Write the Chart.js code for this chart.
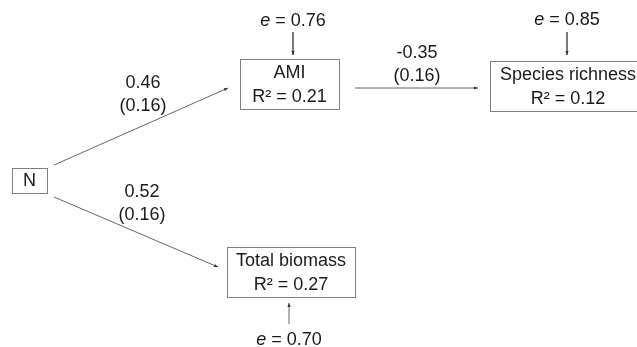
<!DOCTYPE html>
<html><head><meta charset="utf-8">
<script src="https://cdn.jsdelivr.net/npm/chart.js@4"></script>
<style>html,body{margin:0;padding:0;background:#fff}#wrap{width:637px;height:347px}</style>
</head><body><div id="wrap"><canvas id="c"></canvas></div>
<script>
// ---- data ----
const nodeNames = ['N', 'AMI', 'Species richness', 'Total biomass'];
const nodeR2 = [null, 0.21, 0.12, 0.27];
const nodeError = [null, 0.76, 0.85, 0.70];
const pathFrom = [0, 1, 0];
const pathTo = [1, 2, 3];
const pathCoef = [0.46, -0.35, 0.52];
const pathSE = [0.16, 0.16, 0.16];

// ---- layout (diagram units) ----
const layout = {
  box: [ {x0:12,x1:47,y0:168,y1:193}, {x0:240,x1:339,y0:59,y1:109}, {x0:490,x1:645,y0:61,y1:111}, {x0:227,x1:355,y0:247,y1:297} ],
  textX: [29.5, 289.5, 568, 291],
  edge: [ [[54,165],[228,88]], [[355,88],[478,88]], [[54,197],[218,267]] ],
  edgeLabel: [ [143,83,106], [417,53,76], [142,192,215] ],
  err: [ null, {tx:293,ty:21,a:[[293,32],[293,55]]}, {tx:567,ty:20,a:[[567,32],[567,55]]}, {tx:289,ty:340,a:[[289,324],[289,303]]} ]
};

const fmt = v => v.toFixed(2);
const lineDatasets = [];
pathFrom.forEach((f, i) => {
  const e = layout.edge[i];
  lineDatasets.push({ type:'line', data:[{x:e[0][0],y:e[0][1]},{x:e[1][0],y:e[1][1]}], borderColor:'#666', borderWidth:1, pointRadius:0, arrow:true });
});
nodeError.forEach((v, i) => {
  if (v === null) return;
  const a = layout.err[i].a;
  lineDatasets.push({ type:'line', data:[{x:a[0][0],y:a[0][1]},{x:a[1][0],y:a[1][1]}], borderColor:'#666', borderWidth:1, pointRadius:0, arrow:true });
});

const diagramPlugin = {
  id: 'diagram',
  afterDatasetsDraw(chart) {
    const ctx = chart.ctx, xs = chart.scales.x, ys = chart.scales.y;
    const X = v => xs.getPixelForValue(v), Y = v => ys.getPixelForValue(v);
    ctx.save();
    // arrowheads
    chart.data.datasets.forEach(ds => {
      if (!ds.arrow) return;
      const p0 = ds.data[0], p1 = ds.data[1];
      const x0 = X(p0.x), y0 = Y(p0.y), x1 = X(p1.x), y1 = Y(p1.y);
      const ang = Math.atan2(y1 - y0, x1 - x0), L = 4, W = 1.6;
      ctx.fillStyle = '#333';
      ctx.beginPath();
      ctx.moveTo(x1, y1);
      ctx.lineTo(x1 - L*Math.cos(ang) + W*Math.sin(ang), y1 - L*Math.sin(ang) - W*Math.cos(ang));
      ctx.lineTo(x1 - L*Math.cos(ang) - W*Math.sin(ang), y1 - L*Math.sin(ang) + W*Math.cos(ang));
      ctx.closePath(); ctx.fill();
    });
    // boxes
    ctx.strokeStyle = '#808080'; ctx.lineWidth = 1;
    ctx.fillStyle = '#1a1a1a';
    ctx.font = '18px "Liberation Sans", Arial, sans-serif';
    ctx.textAlign = 'center'; ctx.textBaseline = 'middle';
    nodeNames.forEach((name, i) => {
      const b = layout.box[i];
      const x0 = Math.round(X(b.x0)) + 0.5, x1 = Math.round(X(b.x1)) + 0.5;
      const y0 = Math.round(Y(b.y0)) + 0.5, y1 = Math.round(Y(b.y1)) + 0.5;
      ctx.strokeRect(x0, y0, x1 - x0, y1 - y0);
      const cx = X(layout.textX[i]);
      const cy = (Y(b.y0) + Y(b.y1)) / 2;
      if (nodeR2[i] === null) {
        ctx.fillText(name, cx, cy + 1);
      } else {
        ctx.fillText(name, cx, cy - 11);
        ctx.fillText('R\u00b2 = ' + fmt(nodeR2[i]), cx, cy + 13);
      }
    });
    // path labels
    pathCoef.forEach((c, i) => {
      const l = layout.edgeLabel[i];
      ctx.fillText(fmt(c), X(l[0]), Y(l[1]));
      ctx.fillText('(' + fmt(pathSE[i]) + ')', X(l[0]), Y(l[2]));
    });
    // error terms
    nodeError.forEach((v, i) => {
      if (v === null) return;
      const e = layout.err[i];
      const rest = ' = ' + fmt(v);
      ctx.font = 'italic 18px "Liberation Sans", Arial, sans-serif';
      const we = ctx.measureText('e').width;
      ctx.font = '18px "Liberation Sans", Arial, sans-serif';
      const wr = ctx.measureText(rest).width;
      const start = X(e.tx) - (we + wr) / 2;
      ctx.textAlign = 'left';
      ctx.font = 'italic 18px "Liberation Sans", Arial, sans-serif';
      ctx.fillText('e', start, Y(e.ty));
      ctx.font = '18px "Liberation Sans", Arial, sans-serif';
      ctx.fillText(rest, start + we, Y(e.ty));
      ctx.textAlign = 'center';
    });
    ctx.restore();
  }
};

new Chart(document.getElementById('c'), {
  type: 'scatter',
  data: { datasets: lineDatasets },
  options: {
    responsive: true, maintainAspectRatio: false, animation: false,
    layout: { padding: 0 },
    plugins: { legend: { display: false }, tooltip: { enabled: false } },
    scales: {
      x: { type: 'linear', min: 0, max: 637, display: false },
      y: { type: 'linear', min: 0, max: 347, reverse: true, display: false }
    }
  },
  plugins: [diagramPlugin]
});
</script>
</body></html>
